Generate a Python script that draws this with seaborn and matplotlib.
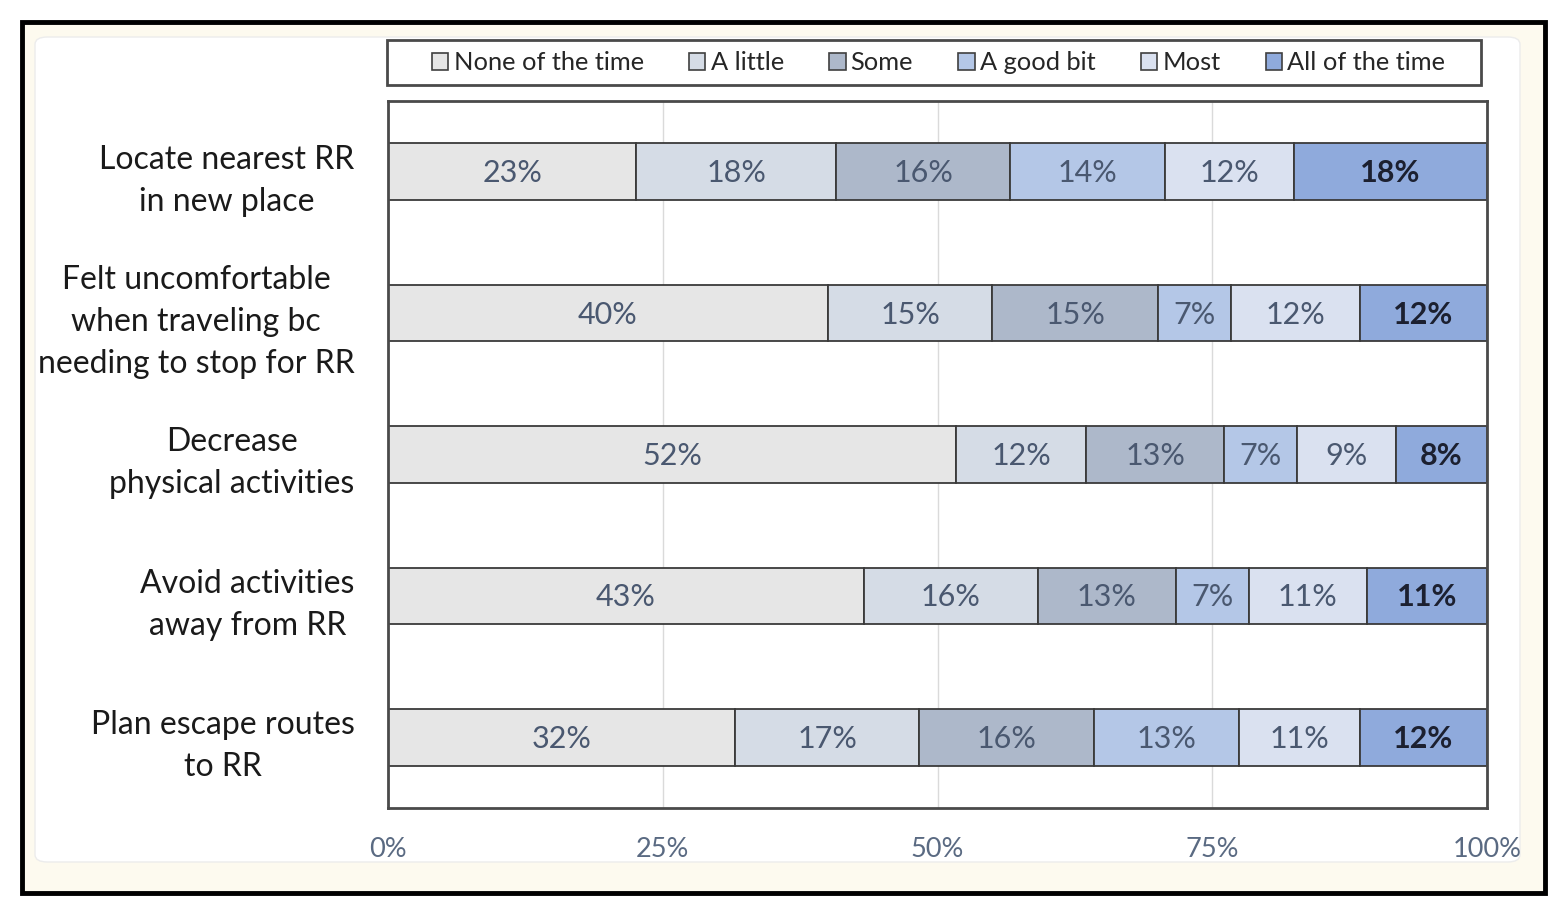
import numpy as np
import pandas as pd
import seaborn as sns
import matplotlib.pyplot as plt
from matplotlib.patches import Patch, Rectangle, FancyBboxPatch

items = ["Locate nearest RR\nin new place",
         "Felt uncomfortable\nwhen traveling bc\nneeding to stop for RR",
         "Decrease\nphysical activities",
         "Avoid activities\naway from RR",
         "Plan escape routes\nto RR"]
levels = ["None of the time", "A little", "Some", "A good bit", "Most", "All of the time"]
# percent of respondents, one list per answer level (rows follow `items`)
none_time = [22.6, 40.0, 51.7, 43.3, 31.6]
a_little = [18.2, 15.0, 11.8, 15.8, 16.7]
some = [15.8, 15.1, 12.6, 12.6, 15.9]
good_bit = [14.1, 6.6, 6.6, 6.6, 13.2]
most = [11.7, 11.7, 9.0, 10.8, 11.0]
all_time = [17.6, 11.6, 8.3, 10.9, 11.6]
colors = ["#e6e6e6", "#d5dce6", "#adb8ca", "#b4c7e7", "#dae1f0", "#8faadc"]

sns.set_theme(style="white")
plt.rcParams['font.family'] = ['Lato', 'DejaVu Sans']

fig = plt.figure(figsize=(15.66, 9.15), dpi=100, facecolor="white")
W, H = 1566, 915

# frame, cream background and white rounded panel
fig.patches.append(Rectangle((22 / W, 1 - 893 / H), (1545 - 22) / W, (893 - 22) / H,
                             transform=fig.transFigure, facecolor="#fdfaef",
                             edgecolor="black", linewidth=3.5, zorder=0))
fig.patches.append(FancyBboxPatch((35 / W, 1 - 862 / H), (1520 - 35) / W, (862 - 37) / H,
                                  boxstyle="round,pad=0,rounding_size=0.008",
                                  transform=fig.transFigure, facecolor="white",
                                  edgecolor="#ececec", linewidth=1, zorder=0.5))

ax = fig.add_axes([388 / W, 1 - 808 / H, (1487 - 388) / W, (808 - 101) / H])
ax.set_zorder(2)

data = np.array([none_time, a_little, some, good_bit, most, all_time])
left = np.zeros(len(items))
for vals, name, col in zip(data, levels, colors):
    sns.barplot(x=vals, y=items, orient="y", color=col, width=0.4, left=left,
                edgecolor="#3a3a3a", linewidth=1.3, saturation=1, ax=ax)
    left = left + vals

# segment labels
left = np.zeros(len(items))
for k, vals in enumerate(data):
    for i, v in enumerate(vals):
        last = k == len(data) - 1
        ax.text(left[i] + v / 2, i + 0.01, f"{v:.0f}%", ha="center", va="center",
                fontsize=22, color="#1c2030" if last else "#4a5870",
                fontweight="bold" if last else "normal")
    left = left + vals

ax.set_xlim(0, 100)
ax.set_ylim(4.5, -0.5)
ax.set_xticks([0, 25, 50, 75, 100])
ax.set_xticklabels(["0%", "25%", "50%", "75%", "100%"], fontsize=19.5, color="#5a6a82")
ax.set_yticks(range(len(items)))
ax.set_yticklabels(items, fontsize=23, color="#1a1a1a", multialignment="center",
                   linespacing=1.5)
ax.tick_params(axis="y", length=0, pad=24)
ax.tick_params(axis="x", length=0, pad=21)
ax.set_xlabel("")
ax.set_ylabel("")
ax.xaxis.grid(True, color="#dadada", linewidth=1)
ax.set_axisbelow(True)
for s in ax.spines.values():
    s.set_color("#4a4a4a")
    s.set_linewidth(2)

# legend box
fig.patches.append(Rectangle((387 / W, 1 - 85 / H), (1481 - 387) / W, (85 - 40) / H,
                             transform=fig.transFigure, facecolor="white",
                             edgecolor="#4a4a4a", linewidth=2, zorder=1))
handles = [Patch(facecolor=c, edgecolor="#404040", linewidth=1.2) for c in colors]
fig.legend(handles, levels, ncol=6, loc="center",
           bbox_to_anchor=((387 + 1481) / 2 / W + 0.003, 1 - 62.5 / H),
           frameon=False, fontsize=18.3, handlelength=0.65, handleheight=0.65,
           handletextpad=0.2, columnspacing=1.78, labelcolor="#262626")

fig.savefig("out.png", dpi=100, facecolor="white")
